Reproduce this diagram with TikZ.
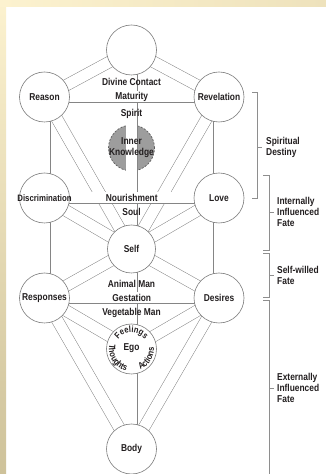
\documentclass[tikz,border=0pt]{standalone}
\usepackage{fontspec}
\setmainfont{Liberation Sans}[FakeStretch=0.84]
\usetikzlibrary{decorations.text,calc}
\definecolor{ln}{HTML}{858585}
\definecolor{cl}{HTML}{7A7A7A}
\definecolor{brk}{HTML}{8E8E8E}
\definecolor{txt}{HTML}{231F20}
\definecolor{ikfill}{HTML}{9D9D9D}
\definecolor{ikline}{HTML}{5E5E5E}
\definecolor{bgA}{HTML}{FCF2CF}
\definecolor{bgB}{HTML}{CEC29A}
\definecolor{bgC}{HTML}{EEE2BC}
\pgfdeclarelayer{bg}
\pgfdeclarelayer{pipes}
\pgfsetlayers{bg,pipes,main}
\newcommand\lblfont{\fontsize{10}{11}\selectfont\bfseries}
\newcommand\egofont{\fontsize{9}{9}\selectfont\bfseries}
\tikzset{
  sph/.style={circle, draw=cl, line width=0.6pt, fill=white, minimum size=50pt, inner sep=0pt, font=\lblfont, text=txt},
  pipe/.style={draw=ln, line width=0.5pt, double=white, double distance=11pt},
  lbl/.style={font=\lblfont, text=txt, inner sep=0pt},
  side/.style={font=\lblfont, text=txt, align=left, anchor=west, inner sep=0pt},
  brack/.style={draw=brk, line width=0.6pt},
  ctext/.style={decorate, decoration={text along path, text align=center, text color=txt}},
}
\begin{document}
\begin{tikzpicture}[x=1pt,y=1pt]
\useasboundingbox (0,0) rectangle (326,474);
\begin{pgfonlayer}{bg}
  \fill[white] (0,0) rectangle (326,474);
  \shade[top color=bgA, bottom color=bgB] (0,0) rectangle (6,474);
  \shade[left color=bgA, right color=bgC] (0,467) rectangle (326,474);
\end{pgfonlayer}

% spheres
\node[sph] (top) at (131.5,424) {};
\node[sph] (reason) at (44.5,377) {Reason};
\node[sph] (revel) at (219,377) {Revelation};
\node[sph, label={[lbl, font=\fontsize{9.3}{10}\selectfont\bfseries]center:Discrimination}] (disc) at (44.5,276) {};
\node[sph] (love) at (219,276) {Love};
\node[sph, minimum size=48pt] (self) at (131.5,225) {Self};
\node[sph] (resp) at (44.5,176) {Responses};
\node[sph] (desires) at (219,176) {Desires};
\node[sph] (ego) at (131.5,125) {};
\node[sph] (body) at (131.5,25) {Body};

\begin{pgfonlayer}{pipes}
  \node[circle, draw=ikline, dash pattern=on 2pt off 1.5pt, fill=ikfill, line width=0.7pt, minimum size=46pt, inner sep=0pt] (inner) at (131.5,326) {};
  \draw[pipe] (top.center) -- (reason.center);
  \draw[pipe] (top.center) -- (revel.center);
  \draw[pipe] (reason.center) -- (self.center);
  \draw[pipe] (revel.center) -- (self.center);
  \draw[pipe] (disc.center) -- (self.center);
  \draw[pipe] (love.center) -- (self.center);
  \draw[pipe] (resp.center) -- (self.center);
  \draw[pipe] (desires.center) -- (self.center);
  \draw[pipe] (resp.center) -- (ego.center);
  \draw[pipe] (desires.center) -- (ego.center);
  \draw[pipe] (resp.center) -- (body.center);
  \draw[pipe] (desires.center) -- (body.center);
  \draw[pipe] (reason.center) -- (disc.center);
  \draw[pipe] (disc.center) -- (resp.center);
  \draw[pipe] (revel.center) -- (love.center);
  \draw[pipe] (love.center) -- (desires.center);
  \draw[pipe] (top.center) -- (self.center);
  \draw[pipe] (self.center) -- (ego.center);
  \draw[pipe] (ego.center) -- (body.center);
  \draw[pipe] (reason.center) -- (revel.center);
  \draw[pipe] (disc.center) -- (love.center);
  \draw[pipe] (resp.center) -- (desires.center);
\end{pgfonlayer}

% labels
\node[lbl, align=center] (innertext) at (inner) {Inner\\Knowledge};
\node[lbl] (divine) at (131.5,392) {Divine Contact};
\path (reason) -- node[lbl] (maturity) {Maturity} (revel);
\node[lbl] (spirit) at (131.5,360) {Spirit};
\path (disc) -- node[lbl] (nourish) {Nourishment} (love);
\node[lbl] (soul) at (131.5,262) {Soul};
\node[lbl] (animal) at (131.5,190) {Animal Man};
\path (resp) -- node[lbl] (gestation) {Gestation} (desires);
\node[lbl] (vegetable) at (131.5,161) {Vegetable Man};
\node[lbl] (egotext) at (131.5,126) {Ego};

% text round the ego
\path[ctext, decoration={text={|\egofont|Feelings}}] (ego.center) ++(155:16.5) arc[start angle=155, end angle=25, radius=16.5];
\path[ctext, decoration={text={|\egofont|Thoughts}}] (ego.center) ++(158:22.5) arc[start angle=158, end angle=266, radius=22.5];
\path[ctext, decoration={text={|\egofont|Actions}}] (ego.center) ++(284:22.5) arc[start angle=284, end angle=372, radius=22.5];

% brackets
\draw[brack] (252,382) -- (257,382) -- (257,276) -- (252,276);
\draw[brack] (257,327) -- (262,327);
\node[side] (sd) at (266,327) {Spiritual\\Destiny};
\draw[brack] (263,299) -- (269,299) -- (269,224) -- (263,224);
\draw[brack] (269,262) -- (274,262);
\node[side] (iif) at (277,262) {Internally\\Influenced\\Fate};
\draw[brack] (263,221) -- (269,221) -- (269,177) -- (263,177);
\draw[brack] (269,199) -- (274,199);
\node[side] (swf) at (277,199) {Self-willed\\Fate};
\draw[brack] (263,174) -- (269,174) -- (269,0);
\draw[brack] (269,86) -- (274,86);
\node[side] (eif) at (277,86) {Externally\\Influenced\\Fate};
\end{tikzpicture}
\end{document}
